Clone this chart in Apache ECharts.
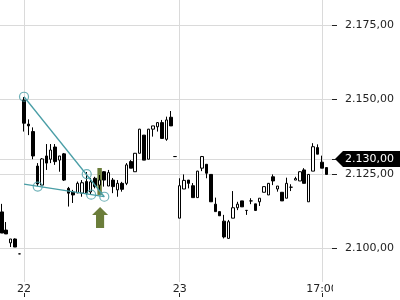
<!DOCTYPE html>
<html><head><meta charset="utf-8">
<script src="https://cdn.jsdelivr.net/npm/echarts@6/dist/echarts.min.js"></script>
<style>html,body{margin:0;padding:0;background:#fff}#c{width:400px;height:300px}</style>
</head><body><div id="c"></div>
<script>
// candle sequence index of first candle (index 0 = first candle of day 22)
const candleStart = -5;
const opens  = [2112.2,2106.1,2101.8,2103.1,2098.1,
  2149.8,2141.7,2139.2,2127.6,2121.2,2131.0,2129.9,2134.0,2129.6,2131.7,
  2120.1,2118.9,2118.6,2118.5,2122.4,2118.9,2123.5,2121.2,2125.7,2120.9,
  2122.9,2119.6,2121.8,2121.8,2129.1,2125.7,2131.9,2138.0,2129.9,2140.0,
  2140.8,2142.2,2136.6,2144.0,2130.8,
  2110.1,2119.9,2122.9,2121.0,2117.0,2126.9,2128.2,2124.8,2114.8,2112.3,
  2109.1,2103.3,2110.1,2113.6,2115.9,2112.7,2115.9,2114.9,2115.6,2118.8,
  2117.9,2124.0,2119.9,2118.8,2116.8,2120.5,2122.9,2122.6,2126.3,2115.6,
  2125.9,2133.8,2128.9,2127.1];
const closes = [2105.1,2104.8,2103.1,2100.4,2098.1,
  2142.0,2141.1,2131.0,2121.6,2130.0,2128.6,2133.0,2129.1,2131.0,2122.9,
  2118.5,2117.9,2121.8,2122.0,2118.5,2122.3,2120.7,2122.9,2122.9,2125.4,
  2120.7,2121.8,2119.8,2128.0,2126.9,2131.9,2140.0,2129.6,2140.0,2141.1,
  2142.2,2136.9,2143.1,2141.1,2130.8,
  2121.0,2122.8,2121.8,2117.0,2125.9,2130.8,2125.2,2115.6,2112.3,2110.9,
  2103.8,2108.9,2113.6,2114.8,2113.9,2112.7,2115.9,2112.7,2116.8,2120.7,
  2121.8,2122.6,2120.9,2115.9,2121.8,2120.5,2123.4,2125.7,2121.8,2124.8,
  2134.1,2131.6,2126.9,2124.8];
const lows   = [2105.1,2104.8,2100.4,2100.4,2098.1,
  2139.2,2138.0,2129.9,2120.9,2121.2,2126.3,2128.6,2128.0,2125.7,2122.6,
  2114.0,2115.2,2118.5,2117.3,2117.9,2117.9,2120.1,2119.6,2120.7,2120.9,
  2118.5,2117.3,2119.0,2121.2,2126.9,2125.7,2131.9,2129.6,2129.9,2137.5,
  2139.2,2136.9,2136.1,2141.1,2130.8,
  2110.1,2119.9,2120.1,2117.0,2117.0,2125.9,2123.5,2115.6,2112.3,2110.9,
  2103.3,2103.3,2110.1,2112.8,2113.9,2111.2,2114.8,2112.5,2114.2,2118.8,
  2117.9,2121.2,2119.0,2115.9,2116.8,2119.2,2122.9,2122.6,2121.8,2115.6,
  2125.9,2131.6,2126.9,2124.8];
const highs  = [2114.9,2108.8,2103.1,2103.3,2098.1,
  2150.8,2143.3,2140.6,2128.6,2130.3,2135.0,2135.0,2135.0,2131.0,2132.0,
  2120.6,2119.6,2122.4,2122.9,2125.6,2123.6,2124.0,2124.6,2125.9,2126.3,
  2123.6,2122.9,2122.3,2128.6,2129.6,2132.0,2140.1,2138.0,2140.1,2141.1,
  2142.4,2143.1,2144.2,2146.1,2130.8,
  2123.5,2124.8,2122.9,2121.9,2126.0,2131.0,2128.2,2124.8,2117.0,2112.3,
  2111.2,2109.5,2119.2,2115.6,2115.9,2112.7,2116.8,2114.9,2116.8,2120.7,
  2121.9,2124.8,2120.9,2118.8,2123.7,2121.5,2124.0,2125.8,2126.9,2124.9,
  2135.3,2134.9,2131.1,2127.1];

// x-axis ticks (candle index) and their labels
const xTickIndex  = [0, 35, 67];
const xTickLabels = ['22', '23', '17:00'];
// y-axis ticks
const yTicks = [2100, 2125, 2150, 2175];
const lastPrice = 2130;

// drawn annotations (candle index, price)
const upperTrend = [[0, 2150.9], [18.05, 2117.3]];
const lowerTrend = [[0, 2121.5], [18.05, 2117.3]];
const touchPoints = [[0, 2150.9], [14.1, 2124.9], [3.08, 2120.7], [15.1, 2118.0], [18.05, 2117.3]];
const signalBar = [[16.5, 2126.95], [17.5, 2117.9]];
const signalArrow = [17.1, 2110.3];

const candles = opens.map((o, k) => [candleStart + k, o, closes[k], lows[k], highs[k]]);

function fmtPrice(v) {
  const s = v.toFixed(2).split('.');
  const int = s[0].replace(/\B(?=(\d{3})+(?!\d))/g, '.');
  return int + ',' + s[1];
}

const teal = '#4a9ea6';
const olive = '#6b7d3a';
const FONT = 'DejaVu Sans';
const chart = echarts.init(document.getElementById('c'));
const option = {
  animation: false,
  backgroundColor: '#fff',
  textStyle: { fontFamily: FONT },
  grid: { left: 0, right: 68, top: 0, bottom: 18 },
  xAxis: [{
    type: 'value', min: -5.4, max: 69.25,
    axisLine: { show: false, onZero: false },
    axisTick: { show: false, customValues: xTickIndex },
    axisLabel: {
      customValues: xTickIndex, margin: 2, fontSize: 11, color: '#222', fontFamily: FONT,
      formatter: v => xTickLabels[xTickIndex.indexOf(v)]
    },
    splitLine: { show: true, lineStyle: { color: '#dadada', width: 1 } }
  }, {
    type: 'value', min: -5.4, max: 69.25, position: 'bottom', offset: 11,
    axisLine: { show: false, onZero: false },
    axisTick: { show: true, length: 4, customValues: xTickIndex, lineStyle: { color: '#222' } },
    axisLabel: { show: false },
    splitLine: { show: false }
  }],
  yAxis: {
    type: 'value', position: 'right', min: 2088.65, max: 2183.4,
    axisLine: { show: false, onZero: false },
    axisTick: { show: true, length: 5, customValues: yTicks.concat([lastPrice]), lineStyle: { color: '#222' } },
    axisLabel: { customValues: yTicks, margin: 13, fontSize: 11, color: '#222', fontFamily: FONT, formatter: fmtPrice },
    splitLine: { show: true, lineStyle: { color: '#dadada', width: 1 } }
  },
  series: [{
    type: 'line', z: 1, data: [[signalArrow[0], signalArrow[1]]], symbol: 'none',
    lineStyle: { opacity: 0 },
    markArea: { silent: true, itemStyle: { color: olive },
      data: [[{ coord: signalBar[0] }, { coord: signalBar[1] }]] },
    markPoint: { silent: true,
      symbol: 'path://M7.5,0 L15,8 L11.3,8 L11.3,21 L3.7,21 L3.7,8 L0,8 Z',
      symbolSize: [16, 21], itemStyle: { color: olive }, label: { show: false },
      data: [{ coord: signalArrow }] }
  }, {
    type: 'candlestick', z: 2, barWidth: 3,
    encode: { x: 0, y: [1, 2, 3, 4] },
    data: candles,
    itemStyle: { color: '#fff', color0: '#000', borderColor: '#000', borderColor0: '#000', borderColorDoji: '#000', borderWidth: 1 }
  }, {
    type: 'line', z: 3, data: upperTrend, symbol: 'none', lineStyle: { color: teal, width: 1.3 }
  }, {
    type: 'line', z: 3, data: lowerTrend, symbol: 'none', lineStyle: { color: teal, width: 1.3 }
  }, {
    type: 'scatter', z: 4, data: touchPoints, symbol: 'circle', symbolSize: 9,
    itemStyle: { color: 'rgba(0,0,0,0)', borderColor: teal, borderWidth: 1.2 }
  }]
};
chart.setOption(option);

const py = chart.convertToPixel({ yAxisIndex: 0 }, lastPrice);
const gx = chart.convertToPixel({ xAxisIndex: 0 }, 69.25);
chart.setOption({
  graphic: [
    { type: 'rect', z: 100, shape: { x: gx + 1, y: 283, width: 400 - gx, height: 11 }, style: { fill: '#fff' } },
    { type: 'polygon', z: 101, shape: { points: [[gx + 3, py], [gx + 11, py - 8], [400, py - 8], [400, py + 8], [gx + 11, py + 8]] }, style: { fill: '#000' } },
    { type: 'text', z: 102, x: gx + 13, y: py, style: { text: fmtPrice(lastPrice), fill: '#fff', font: '11px "DejaVu Sans"', verticalAlign: 'middle', textVerticalAlign: 'middle' } }
  ]
});
</script></body></html>
